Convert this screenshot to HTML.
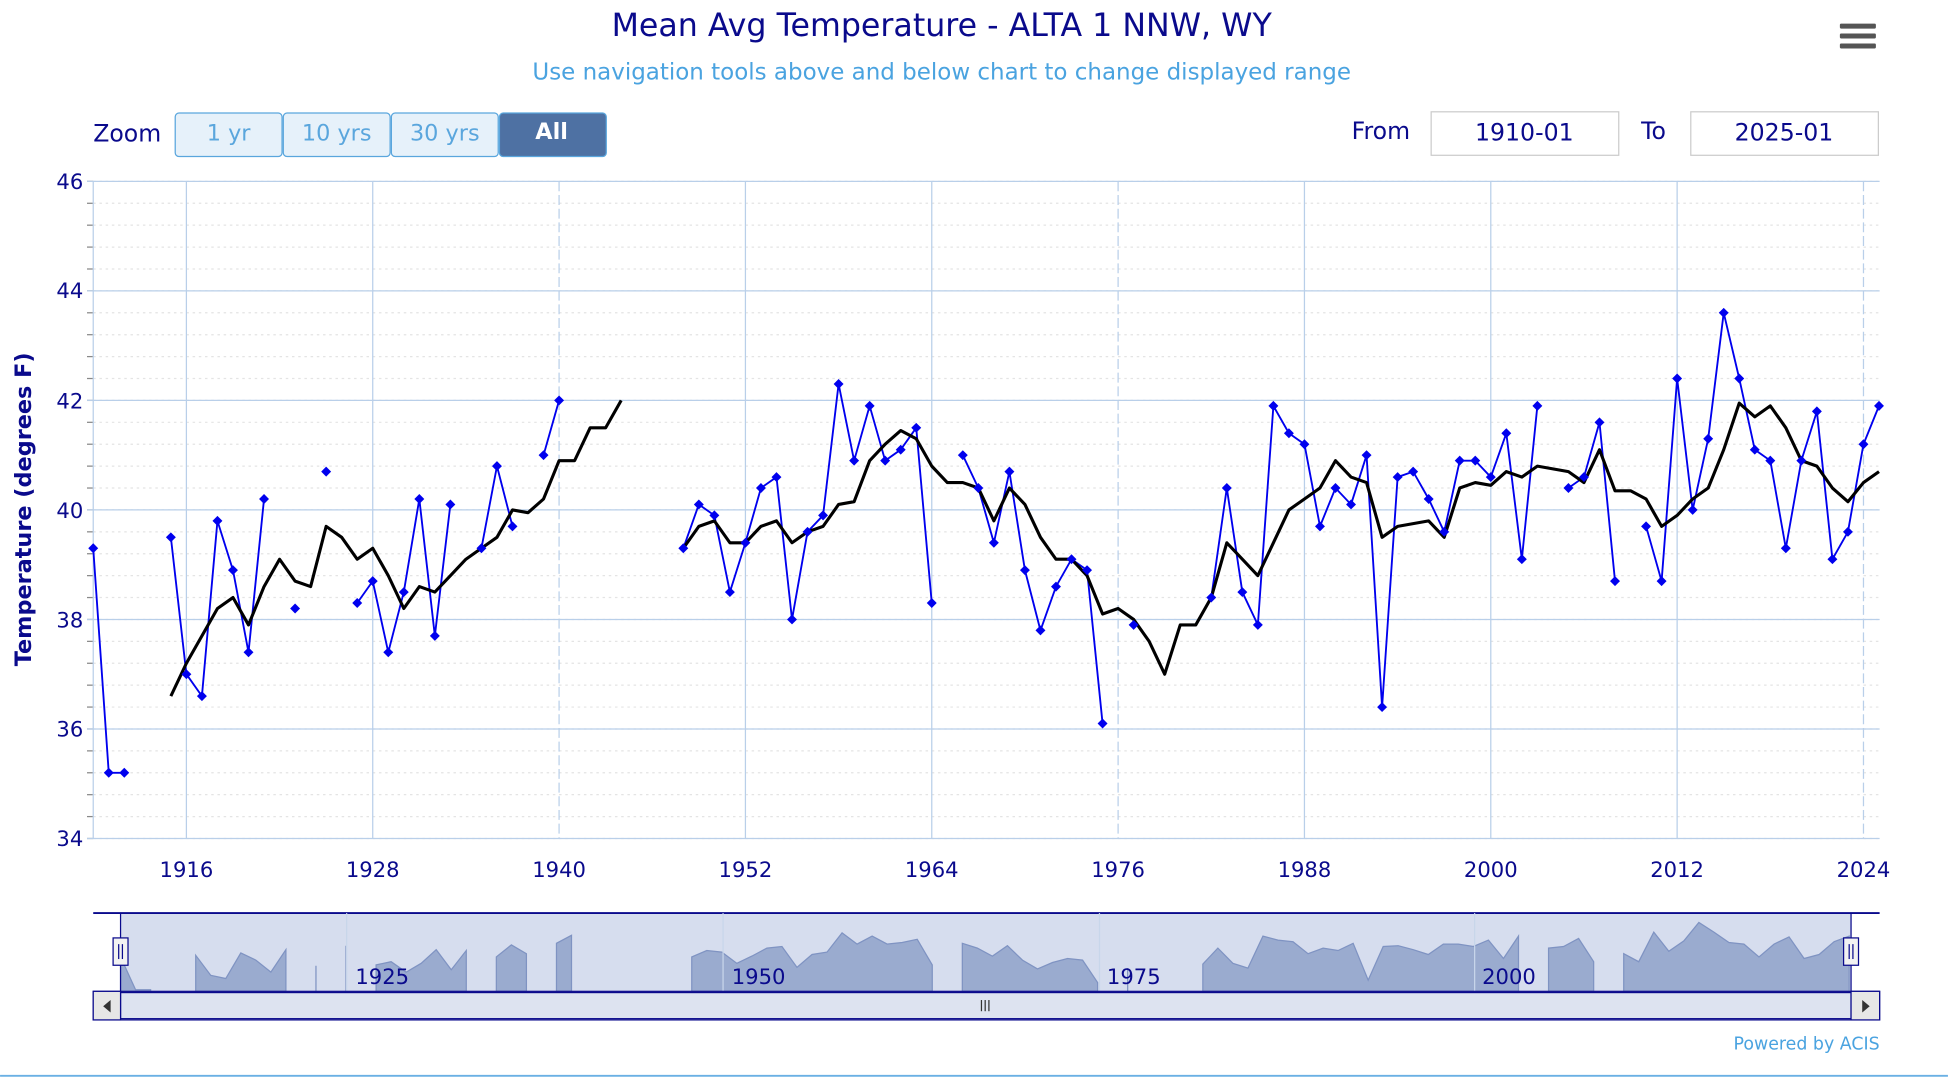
<!DOCTYPE html>
<html><head><meta charset="utf-8"><style>
html,body{margin:0;padding:0;background:#fff;}
svg{display:block;font-family:"DejaVu Sans","Liberation Sans",sans-serif;}
</style></head><body>
<svg id="s" width="1948" height="1086" viewBox="0 0 1568 874.2" xmlns="http://www.w3.org/2000/svg">
<rect width="1568" height="874.2" fill="#fff"/>
<text x="758" y="29" text-anchor="middle" font-size="25.5" fill="#0a0a8c">Mean Avg Temperature - ALTA 1 NNW, WY</text>
<text x="758" y="64" text-anchor="middle" font-size="18.5" fill="#4aa3e0">Use navigation tools above and below chart to change displayed range</text>
<g fill="#555"><rect x="1481" y="19" width="29" height="4" rx="1"/><rect x="1481" y="27" width="29" height="4" rx="1"/><rect x="1481" y="35" width="29" height="4" rx="1"/></g>
<text x="75" y="114" font-size="19" fill="#0a0a8c">Zoom</text>
<g font-size="18" text-anchor="middle">
<rect x="141" y="91" width="86" height="35" rx="3" fill="#e6f1fa" stroke="#5aa6dd"/><text x="184" y="113" fill="#5aa6dd">1 yr</text>
<rect x="228" y="91" width="86" height="35" rx="3" fill="#e6f1fa" stroke="#5aa6dd"/><text x="271" y="113" fill="#5aa6dd">10 yrs</text>
<rect x="315" y="91" width="86" height="35" rx="3" fill="#e6f1fa" stroke="#5aa6dd"/><text x="358" y="113" fill="#5aa6dd">30 yrs</text>
<rect x="402" y="91" width="86" height="35" rx="3" fill="#4e71a3" stroke="#5aa6dd"/><text x="444" y="112" fill="#fff" font-weight="bold">All</text>
</g>
<text x="1088" y="112" font-size="19" fill="#0a0a8c">From</text>
<rect x="1152" y="90" width="151" height="35" fill="#fff" stroke="#ccc"/>
<text x="1227" y="113" font-size="19" fill="#0a0a8c" text-anchor="middle">1910-01</text>
<text x="1321" y="112" font-size="19" fill="#0a0a8c">To</text>
<rect x="1361" y="90" width="151" height="35" fill="#fff" stroke="#ccc"/>
<text x="1436" y="113" font-size="19" fill="#0a0a8c" text-anchor="middle">2025-01</text>
<g id="grid"></g>
<text transform="translate(25,410) rotate(-90)" text-anchor="middle" font-size="18" font-weight="bold" fill="#0a0a8c">Temperature (degrees F)</text>
<g id="ylab" font-size="17" fill="#0a0a8c" text-anchor="end">
<text x="67" y="152">46</text><text x="67" y="240">44</text><text x="67" y="329">42</text><text x="67" y="417">40</text><text x="67" y="505">38</text><text x="67" y="593">36</text><text x="67" y="681">34</text>
</g>
<g font-size="17" fill="#0a0a8c" text-anchor="middle">
<text x="150" y="706">1916</text><text x="300" y="706">1928</text><text x="450" y="706">1940</text><text x="600" y="706">1952</text><text x="750" y="706">1964</text><text x="900" y="706">1976</text><text x="1050" y="706">1988</text><text x="1200" y="706">2000</text><text x="1500" y="706">2024</text><text x="1350" y="706">2012</text>
</g>
<g id="series"></g>
<rect x="75" y="735" width="1438" height="63" fill="#fff"/>
<rect x="97" y="735" width="1393" height="63" fill="#d6ddee"/>
<g id="nav"></g>
<line x1="75" y1="735" x2="1513" y2="735" stroke="#0a0a8c" stroke-width="1.5"/>
<g stroke="#c8d6ea"><line x1="279" y1="735" x2="279" y2="798"/><line x1="582" y1="735" x2="582" y2="798"/><line x1="885" y1="735" x2="885" y2="798"/><line x1="1187" y1="735" x2="1187" y2="798"/></g>
<g font-size="17" fill="#0a0a8c"><text x="286" y="792">1925</text><text x="589" y="792">1950</text><text x="891" y="792">1975</text><text x="1193" y="792">2000</text></g>
<line x1="97" y1="735" x2="97" y2="798" stroke="#0a0a8c"/><line x1="1490" y1="735" x2="1490" y2="798" stroke="#0a0a8c"/>
<rect x="91" y="755" width="12" height="22" fill="#f2f2f2" stroke="#0a0a8c"/><line x1="95.5" y1="760" x2="95.5" y2="772" stroke="#0a0a8c"/><line x1="98.5" y1="760" x2="98.5" y2="772" stroke="#0a0a8c"/>
<rect x="1484" y="755" width="12" height="22" fill="#f2f2f2" stroke="#0a0a8c"/><line x1="1488.5" y1="760" x2="1488.5" y2="772" stroke="#0a0a8c"/><line x1="1491.5" y1="760" x2="1491.5" y2="772" stroke="#0a0a8c"/>
<rect x="75" y="798" width="1438" height="23" fill="#f2f2f2" stroke="#0a0a8c"/>
<rect x="97" y="799" width="1393" height="21" fill="#dde3f0" stroke="#0a0a8c"/>
<rect x="75" y="798" width="22" height="23" fill="#e6e6e6" stroke="#0a0a8c"/><path d="M89 805 L83 810 L89 815Z" fill="#333"/>
<rect x="1490" y="798" width="23" height="23" fill="#e6e6e6" stroke="#0a0a8c"/><path d="M1499 805 L1505 810 L1499 815Z" fill="#333"/>
<g stroke="#333"><line x1="790" y1="805" x2="790" y2="814"/><line x1="793" y1="805" x2="793" y2="814"/><line x1="796" y1="805" x2="796" y2="814"/></g>
<text x="1513" y="845" text-anchor="end" font-size="14" fill="#4aa3e0">Powered by ACIS</text>
<line x1="0" y1="866" x2="1568" y2="866" stroke="#6ab0e4" stroke-width="1.5"/>
</svg>
<script>
var NS="http://www.w3.org/2000/svg";
function el(p,t,a){var e=document.createElementNS(NS,t);for(var k in a)e.setAttribute(k,a[k]);p.appendChild(e);return e;}
function X(y){return 75+(y-1910)*12.5;}
function Y(v){return 146+(46-v)*44.08;}
var g=document.getElementById('grid');
for(var v=34;v<46;v+=0.4){var yy=Y(v);el(g,'line',{x1:75,x2:1513,y1:yy,y2:yy,stroke:'#e4e4e4','stroke-dasharray':'2,3'});el(g,'line',{x1:70,x2:75,y1:yy,y2:yy,stroke:'#888'});}
for(var v=34;v<=46;v+=2){var yy=Y(v);el(g,'line',{x1:70,x2:1513,y1:yy,y2:yy,stroke:'#b9cfe9'});}
[1916,1928,1940,1952,1964,1976,1988,2000,2012,2024].forEach(function(y){el(g,'line',{x1:X(y),x2:X(y),y1:146,y2:675,stroke:'#b9cfe9','stroke-dasharray':(y==1940||y==1976||y==2024)?'8,3':'none'});});
el(g,'line',{x1:75,x2:75,y1:146,y2:675,stroke:'#b9cfe9'});
var blue={1910:39.3,1911:35.2,1912:35.2,1915:39.5,1916:37.0,1917:36.6,1918:39.8,1919:38.9,1920:37.4,1921:40.2,1923:38.2,1925:40.7,1927:38.3,1928:38.7,1929:37.4,1930:38.5,1931:40.2,1932:37.7,1933:40.1,1935:39.3,1936:40.8,1937:39.7,1939:41.0,1940:42.0,
1948:39.3,1949:40.1,1950:39.9,1951:38.5,1952:39.4,1953:40.4,1954:40.6,1955:38.0,1956:39.6,1957:39.9,1958:42.3,1959:40.9,1960:41.9,1961:40.9,1962:41.1,1963:41.5,1964:38.3,1966:41.0,1967:40.4,1968:39.4,1969:40.7,1970:38.9,1971:37.8,1972:38.6,1973:39.1,1974:38.9,1975:36.1,1977:37.9,
1982:38.4,1983:40.4,1984:38.5,1985:37.9,1986:41.9,1987:41.4,1988:41.2,1989:39.7,1990:40.4,1991:40.1,1992:41.0,1993:36.4,1994:40.6,1995:40.7,1996:40.2,1997:39.6,1998:40.9,1999:40.9,2000:40.6,2001:41.4,2002:39.1,2003:41.9,2005:40.4,2006:40.6,2007:41.6,2008:38.7,2010:39.7,2011:38.7,2012:42.4,2013:40.0,2014:41.3,2015:43.6,2016:42.4,2017:41.1,2018:40.9,2019:39.3,2020:40.9,2021:41.8,2022:39.1,2023:39.6,2024:41.2,2025:41.9};
var b1=[36.6,37.2,37.7,38.2,38.4,37.9,38.6,39.1,38.7,38.6,39.7,39.5,39.1,39.3,38.8,38.2,38.6,38.5,38.8,39.1,39.3,39.5,40.0,39.95,40.2,40.9,40.9,41.5,41.5,42.0];
var b2=[39.3,39.7,39.8,39.4,39.4,39.7,39.8,39.4,39.6,39.7,40.1,40.15,40.9,41.2,41.45,41.3,40.8,40.5,40.5,40.4,39.8,40.4,40.1,39.5,39.1,39.1,38.8,38.1,38.2,38.0,37.6,37.0,37.9,37.9,38.4,39.4,39.1,38.8,39.4,40.0,40.2,40.4,40.9,40.6,40.5,39.5,39.7,39.75,39.8,39.5,40.4,40.5,40.45,40.7,40.6,40.8,40.75,40.7,40.5,41.1,40.35,40.35,40.2,39.7,39.9,40.2,40.4,41.1,41.95,41.7,41.9,41.5,40.9,40.8,40.4,40.15,40.5,40.7];
var s=document.getElementById('series');
var segs=[],cur=[];
for(var y=1910;y<=2025;y++){if(blue[y]!==undefined)cur.push([y,blue[y]]);else{if(cur.length)segs.push(cur);cur=[];}}
if(cur.length)segs.push(cur);
segs.forEach(function(sg){if(sg.length>1)el(s,'polyline',{points:sg.map(function(p){return X(p[0])+','+Y(p[1]);}).join(' '),fill:'none',stroke:'#0000ee','stroke-width':1.5});});
function blk(arr,start){el(s,'polyline',{points:arr.map(function(v,i){return X(start+i)+','+Y(v);}).join(' '),fill:'none',stroke:'#000','stroke-width':2.5,'stroke-linejoin':'round'});}
blk(b1,1915);blk(b2,1948);
for(var y in blue){var cx=X(+y),cy=Y(blue[y]);el(s,'path',{d:'M'+cx+' '+(cy-4)+'L'+(cx+4)+' '+cy+'L'+cx+' '+(cy+4)+'L'+(cx-4)+' '+cy+'Z',fill:'#0000ee'});}
var n=document.getElementById('nav');
function NX(y){return 97+(y-1910)*12.1;}
function NY(v){return 798-(v-35)/(44-35)*58;}
segs.forEach(function(sg){var d='M'+NX(sg[0][0])+' 798';sg.forEach(function(p){d+='L'+NX(p[0])+' '+NY(p[1]);});d+='L'+NX(sg[sg.length-1][0])+' 798Z';el(n,'path',{d:d,fill:'#9aabcf',stroke:'#7f93c2','stroke-width':1});});
</script>
</body></html>
